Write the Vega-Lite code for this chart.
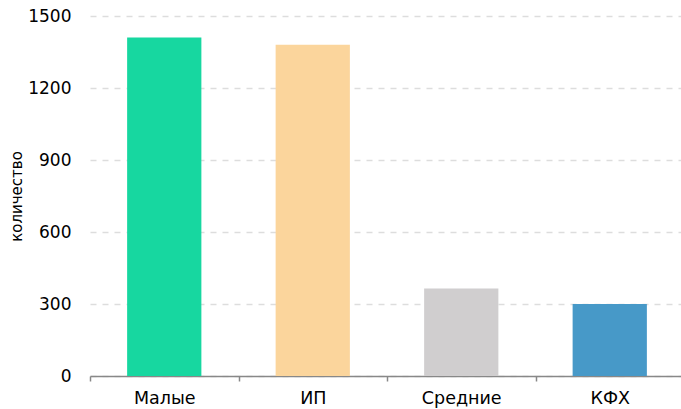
{
  "$schema": "https://vega.github.io/schema/vega-lite/v6.json",
  "width": 594,
  "height": 360,
  "autosize": {"type": "none"},
  "padding": {"left": 90, "top": 16, "right": 0, "bottom": 33},
  "background": "white",
  "config": {"view": {"stroke": null}, "font": "DejaVu Sans"},
  "data": {"values": [
    {"cat": "Малые", "value": 1410},
    {"cat": "ИП", "value": 1380},
    {"cat": "Средние", "value": 365},
    {"cat": "КФХ", "value": 300}
  ]},
  "mark": {"type": "bar", "width": {"band": 0.5}},
  "encoding": {
    "x": {"field": "cat", "type": "nominal", "sort": null,
      "scale": {"paddingInner": 0, "paddingOuter": 0},
      "axis": {"title": null, "labelAngle": 0, "labelFontSize": 17.5, "labelColor": "#000", "labelPadding": 8,
        "domainColor": "#888", "domainWidth": 1.5, "tickColor": "#888", "tickWidth": 1.5, "tickBand": "extent", "tickSize": 5, "grid": false}},
    "y": {"field": "value", "type": "quantitative",
      "scale": {"domain": [0, 1500]},
      "axis": {"title": "количество", "titleFontSize": 15, "titleFontWeight": "normal", "titleColor": "#000", "titlePadding": 3,
        "values": [0, 300, 600, 900, 1200, 1500], "format": "d", "labelFontSize": 17, "labelColor": "#000", "labelPadding": 19,
        "domain": false, "ticks": false, "gridDash": [6, 6], "gridColor": "#ddd", "gridWidth": 1.5}},
    "color": {"field": "cat", "type": "nominal", "sort": null, "legend": null,
      "scale": {"domain": ["Малые", "ИП", "Средние", "КФХ"], "range": ["#17d7a0", "#fbd59c", "#d0cecf", "#4799c8"]}}
  }
}
